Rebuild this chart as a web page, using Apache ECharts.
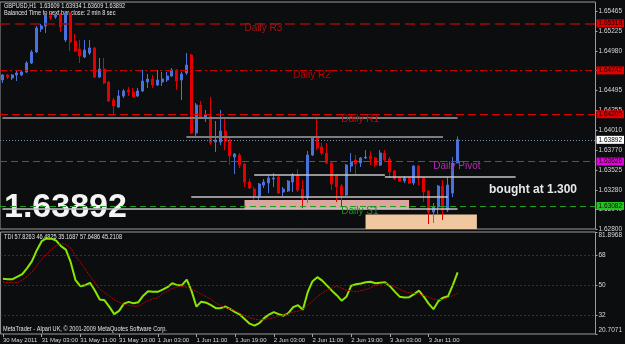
<!DOCTYPE html>
<html>
<head>
<meta charset="utf-8">
<title>GBPUSD,H1</title>
<script src="https://cdn.jsdelivr.net/npm/echarts@6/dist/echarts.min.js"></script>
<style>
html, body { margin: 0; padding: 0; background: #0c0d0f; }
#main { width: 625px; height: 344px; }
</style>
</head>
<body>
<div id="main"></div>
<script>
// H1 bars from 30 May 19:00 to 3 Jun 17:00
var opens = [1.64625,1.64686,1.64649,1.64686,1.64686,1.64723,1.64833,1.64968,1.65249,1.65286,
  1.65409,1.65396,1.65421,1.65115,1.65445,1.65102,1.65004,1.64906,1.64955,1.65017,
  1.64661,1.64759,1.64600,1.64380,1.64294,1.64429,1.64502,1.64478,1.64429,1.64490,
  1.64600,1.64637,1.64563,1.64600,1.64625,1.64674,1.64747,1.64625,1.64710,1.64931,
  1.63975,1.64318,1.64171,1.64184,1.63865,1.63865,1.64000,1.63890,1.63681,1.63706,
  1.63596,1.63375,1.63289,1.63204,1.63338,1.63363,1.63412,1.63436,1.63253,1.63265,
  1.63375,1.63461,1.63289,1.63179,1.63706,1.63926,1.63804,1.63730,1.63608,1.63449,
  1.63326,1.63216,1.63571,1.63645,1.63608,1.63669,1.63694,1.63669,1.63583,1.63730,
  1.63657,1.63510,1.63424,1.63387,1.63424,1.63363,1.63571,1.63424,1.63265,1.63008,
  1.63069,1.63326,1.63032,1.63240,1.63609];
var closes = [1.64686,1.64661,1.64686,1.64710,1.64723,1.64833,1.64968,1.65262,1.65286,1.65421,
  1.65384,1.65421,1.65274,1.65445,1.65090,1.64980,1.64919,1.64992,1.65017,1.64661,
  1.64759,1.64588,1.64367,1.64306,1.64429,1.64490,1.64478,1.64416,1.64490,1.64612,
  1.64637,1.64563,1.64625,1.64637,1.64674,1.64747,1.64612,1.64698,1.64808,1.63975,
  1.64318,1.64171,1.64196,1.63853,1.63890,1.64000,1.63877,1.63694,1.63718,1.63583,
  1.63375,1.63302,1.63204,1.63351,1.63375,1.63424,1.63424,1.63240,1.63289,1.63387,
  1.63461,1.63277,1.63167,1.63706,1.63926,1.63792,1.63730,1.63608,1.63351,1.63314,
  1.63216,1.63583,1.63620,1.63596,1.63669,1.63681,1.63657,1.63583,1.63730,1.63645,
  1.63498,1.63412,1.63387,1.63424,1.63363,1.63571,1.63424,1.63253,1.63008,1.63069,
  1.63326,1.63032,1.63338,1.63608,1.63892];
var lows = [1.64588,1.64637,1.64625,1.64612,1.64674,1.64710,1.64821,1.64955,1.65213,1.65200,
  1.65360,1.65372,1.65213,1.65090,1.64980,1.64968,1.64833,1.64894,1.64931,1.64649,
  1.64649,1.64576,1.64355,1.64208,1.64282,1.64404,1.64429,1.64416,1.64416,1.64478,
  1.64527,1.64527,1.64551,1.64551,1.64600,1.64661,1.64502,1.64380,1.64686,1.63963,
  1.63926,1.64159,1.64110,1.63828,1.63743,1.63828,1.63767,1.63583,1.63473,1.63547,
  1.63314,1.63289,1.63155,1.63155,1.63302,1.63240,1.63314,1.63228,1.63204,1.63253,
  1.63253,1.63253,1.63044,1.63118,1.63694,1.63767,1.63706,1.63596,1.63277,1.63130,
  1.63069,1.63204,1.63498,1.63461,1.63559,1.63657,1.63583,1.63559,1.63571,1.63620,
  1.63424,1.63400,1.63375,1.63363,1.63351,1.63338,1.63338,1.63130,1.62861,1.62873,
  1.62971,1.62910,1.63008,1.63191,1.63609];
var highs = [1.64698,1.64698,1.64698,1.64735,1.64735,1.64857,1.64992,1.65286,1.65311,1.65445,
  1.65445,1.65445,1.65445,1.65470,1.65458,1.65188,1.65115,1.65115,1.65115,1.65029,
  1.64894,1.64894,1.64612,1.64404,1.64502,1.64514,1.64539,1.64527,1.64527,1.64747,
  1.64698,1.64686,1.64747,1.64723,1.64723,1.64772,1.64759,1.64723,1.64955,1.64943,
  1.64343,1.64367,1.64257,1.64416,1.64122,1.64257,1.64171,1.63926,1.63730,1.63730,
  1.63608,1.63412,1.63314,1.63363,1.63412,1.63461,1.63485,1.63449,1.63314,1.63400,
  1.63485,1.63534,1.63400,1.63755,1.63939,1.64159,1.63853,1.63853,1.63620,1.63461,
  1.63351,1.63596,1.63730,1.63706,1.63681,1.63767,1.63755,1.63681,1.63767,1.63767,
  1.63681,1.63522,1.63436,1.63449,1.63436,1.63583,1.63583,1.63436,1.63277,1.63118,
  1.63338,1.63400,1.63436,1.63681,1.63934];

// TDI: RSI price line (green) and trade signal line (red)
var rsiLine = [53.9,53.6,53.6,55.1,56.6,60.2,64.4,71.0,76.4,78.0,
  77.9,76.7,73.4,71.3,63.8,53.0,49.4,50.0,51.4,46.8,
  41.4,40.9,37.0,32.6,34.6,38.9,40.0,39.1,39.8,43.7,
  46.4,46.0,46.0,47.3,48.8,51.2,50.0,50.0,53.3,46.4,
  37.1,40.1,39.5,38.0,36.2,36.2,37.2,35.6,33.8,32.3,
  29.6,26.9,25.7,27.2,30.2,32.3,33.8,32.6,31.7,33.2,
  36.8,38.0,35.3,45.8,52.4,54.8,52.7,49.7,46.7,44.0,
  40.7,43.0,49.7,50.6,51.0,51.8,52.0,51.2,51.5,51.8,
  49.4,46.1,43.1,42.6,42.8,44.6,46.7,43.1,38.9,35.6,
  40.4,42.5,43.3,50.0,57.6486];
var signalLine = [51.9,51.6,51.6,51.5,53.0,55.4,57.8,61.7,65.6,68.4,
  71.6,73.7,75.2,74.3,72.5,67.4,63.8,59.6,55.4,51.2,
  47.6,45.5,43.4,41.3,39.8,38.6,38.0,37.4,37.4,39.2,
  40.7,41.9,42.3,44.9,46.4,48.0,48.8,49.4,48.7,47.7,
  46.1,44.6,43.1,41.6,39.5,37.7,36.5,35.6,34.6,33.2,
  31.7,30.5,29.7,29.1,29.3,29.9,30.5,31.4,32.0,32.9,
  33.9,34.4,35.6,38.0,40.4,43.1,45.2,47.0,48.3,49.4,
  48.2,47.0,46.5,46.0,46.7,47.4,48.5,49.7,50.6,51.3,
  50.3,49.1,47.6,46.1,45.5,45.1,44.6,44.0,42.8,41.6,
  41.4,41.4,42.5,43.7,45.2108];
var tdiBands = [57.8263, 46.4825, 35.1687];
var tdiLevels = [68, 50, 32];

// axes
var timeLabels = ['30 May 2011','31 May 03:00','31 May 11:00','31 May 19:00','1 Jun 03:00','1 Jun 11:00',
  '1 Jun 19:00','2 Jun 03:00','2 Jun 11:00','2 Jun 19:00','3 Jun 03:00','3 Jun 11:00'];
var priceTicks = [1.65465,1.65225,1.64980,1.64740,1.64495,1.64255,1.64010,1.63770,1.63525,1.63280,1.63040,1.62800];
var priceTop = 1.6558;
var tdiTicks = [81.8968, 68, 50, 32, 20.7071];

// daily pivots
var pivotNames = ['Daily R3','Daily R2','Daily R1','Daily Pivot','Daily S1'];
var pivotValues = [1.65318, 1.64742, 1.64205, 1.63626, 1.63082];
var pivotTextAt = [50, 60, 70, 89, 70];

// hand drawn levels: price, first bar, last bar
var userLevels = [1.64165, 1.63930, 1.63461, 1.63445, 1.63200, 1.63044];
var userFrom = [0, 38, 52, 79, 39, 0];
var userTo = [94, 91, 79, 106, 92, 94];

// boxes: [from bar, top price, to bar, bottom price]
var zones = [[50, 1.63155, 84, 1.63041], [75, 1.62979, 98, 1.62700]];

var FONT = '"Liberation Sans", Arial, sans-serif';
var BULL = '#4a72dc', BEAR = '#e40000';

var categories = [];
var t0 = Date.UTC(2011, 4, 30, 19);
for (var i = 0; i < 123; i++) {
  categories.push(new Date(t0 + i * 3600000).toISOString().slice(0, 13));
}
var last = closes.length - 1;

var pivotLine = [
  { color: '#a00808', type: [10, 5], width: 1.5 },
  { color: '#d00000', type: [7, 3, 2, 3], width: 1 },
  { color: '#e00000', type: [8, 4], width: 1 },
  { color: '#d000d0', type: [7, 4], width: 1 },
  { color: '#1ea01e', type: [6, 4], width: 1 }
];
var pivotBox = ['#d80000', '#e00000', '#e00000', '#e000e0', '#22c422'];
var pivotText = ['#a81414', '#c00000', '#b01010', '#b828b8', '#1e8c1e'];

var lines = [];
pivotValues.forEach(function (v, k) {
  lines.push({
    yAxis: v, lineStyle: pivotLine[k],
    label: { show: true, position: 'end', distance: 1, formatter: v.toFixed(5),
      backgroundColor: pivotBox[k], color: '#200000', padding: [1, 2, 0, 2], fontSize: 6.5 }
  });
});
lines.push({
  yAxis: closes[last], lineStyle: { color: '#7b8db0', type: [1, 2], width: 1 },
  label: { show: true, position: 'end', distance: 1, formatter: closes[last].toFixed(5),
    backgroundColor: '#ffffff', color: '#000', padding: [1, 2, 0, 2], fontSize: 6.5 }
});
userLevels.forEach(function (v, k) {
  var upper = k < 2;
  lines.push([
    { coord: [userFrom[k], v], label: { show: false },
      lineStyle: { color: upper ? '#7c7c7c' : '#c4c4c4', width: upper ? 2 : 1.5, type: 'solid' } },
    { coord: [userTo[k], v] }
  ]);
});

var areas = zones.map(function (z, k) {
  return [
    { coord: [z[0], z[1]], itemStyle: { color: k === 0 ? '#dba69f' : '#f0c8a0' } },
    { coord: [z[2], z[3]] }
  ];
});

var texts = pivotNames.map(function (n, k) {
  return { name: n, coord: [pivotTextAt[k], pivotValues[k]],
    label: { color: pivotText[k] } };
});

function everyEighth(i) { return i % 8 === 0 && i / 8 < timeLabels.length; }

var chart = echarts.init(document.getElementById('main'));
chart.setOption({
  backgroundColor: '#0c0d0f',
  animation: false,
  textStyle: { fontFamily: FONT },
  grid: [
    { left: 0, top: 2, width: 602, height: 227, show: true, borderColor: '#9a9a9a', borderWidth: 1 },
    { left: 0, top: 232, width: 602, height: 102, show: true, borderColor: '#9a9a9a', borderWidth: 1 }
  ],
  xAxis: [
    { type: 'category', gridIndex: 0, data: categories, boundaryGap: true,
      axisLine: { show: false }, axisTick: { show: false }, axisLabel: { show: false }, splitLine: { show: false } },
    { type: 'category', gridIndex: 1, data: categories, boundaryGap: true,
      axisLine: { show: false }, splitLine: { show: false },
      axisTick: { show: true, alignWithLabel: true, length: 3, interval: everyEighth,
        lineStyle: { color: '#a8a8a8' } },
      axisLabel: { color: '#d8d8d8', fontSize: 6, fontFamily: FONT, align: 'left', margin: 3,
        showMinLabel: true, hideOverlap: false, interval: everyEighth,
        formatter: function (v) { return timeLabels[categories.indexOf(v) / 8]; } } }
  ],
  yAxis: [
    { type: 'value', gridIndex: 0, position: 'right', min: priceTicks[priceTicks.length - 1], max: priceTop,
      splitLine: { show: false }, axisLine: { show: false },
      axisTick: { show: true, length: 2, customValues: priceTicks, lineStyle: { color: '#a8a8a8' } },
      axisLabel: { customValues: priceTicks, color: '#d8d8d8', fontSize: 6.5, fontFamily: FONT, margin: 3,
        formatter: function (v) { return v.toFixed(5); } } },
    { type: 'value', gridIndex: 1, position: 'right', min: tdiTicks[tdiTicks.length - 1], max: tdiTicks[0],
      splitLine: { show: false }, axisLine: { show: false },
      axisTick: { show: true, length: 2, customValues: tdiTicks, lineStyle: { color: '#a8a8a8' } },
      axisLabel: { customValues: tdiTicks, color: '#d8d8d8', fontSize: 6.5, fontFamily: FONT, margin: 3,
        formatter: function (v) {
          if (v === tdiTicks[0]) return '{top|' + v.toFixed(4) + '}';
          if (v === tdiTicks[tdiTicks.length - 1]) return '{bot|' + v.toFixed(4) + '}';
          return String(v);
        },
        rich: { top: { padding: [7, 0, 0, 0], fontSize: 6.5, color: '#d8d8d8' },
                bot: { padding: [0, 0, 8, 0], fontSize: 6.5, color: '#d8d8d8' } } } }
  ],
  series: [
    {
      type: 'candlestick', xAxisIndex: 0, yAxisIndex: 0, barWidth: 2.5,
      data: opens.map(function (o, i) { return [o, closes[i], lows[i], highs[i]]; }),
      itemStyle: { color: BULL, color0: BEAR, borderColor: BULL, borderColor0: BEAR, borderWidth: 1 },
      markArea: { silent: true, data: areas },
      markLine: { silent: true, precision: 5, symbol: ['none', 'none'], animation: false, data: lines },
      markPoint: { silent: true, symbol: 'circle', symbolSize: 0, data: texts,
        label: { show: true, position: 'right', distance: 0, offset: [0, 5], formatter: '{b}',
          fontSize: 10, fontFamily: FONT } }
    },
    {
      type: 'line', xAxisIndex: 1, yAxisIndex: 1, data: rsiLine, showSymbol: false,
      lineStyle: { color: '#8ce600', width: 2 },
      markLine: { silent: true, symbol: ['none', 'none'], label: { show: false },
        lineStyle: { color: '#5a5a5a', type: [1, 3], width: 1 },
        data: tdiLevels.map(function (v) { return { yAxis: v }; }) }
    },
    {
      type: 'line', xAxisIndex: 1, yAxisIndex: 1, data: signalLine, showSymbol: false,
      lineStyle: { color: '#c00000', width: 1, type: [2, 1] }
    }
  ],
  graphic: [
    { type: 'text', x: 4, y: 6, scaleX: 0.8, silent: true,
      style: { text: 'GBPUSD,H1  ' + [opens[last], highs[last], lows[last], closes[last]].map(function (v) { return v.toFixed(5); }).join(' '),
        fill: '#e4e4e4', font: '7px ' + FONT, verticalAlign: 'middle' } },
    { type: 'text', x: 4, y: 13, scaleX: 0.8, silent: true,
      style: { text: 'Balanced Time to next bar close: 2 min 8 sec', fill: '#e4e4e4', font: '7px ' + FONT, verticalAlign: 'middle' } },
    { type: 'text', x: 4, y: 237, scaleX: 0.8, silent: true,
      style: { text: 'TDI ' + tdiBands.concat([rsiLine[last], signalLine[last]]).map(function (v) { return v.toFixed(4); }).join(' '),
        fill: '#e4e4e4', font: '7px ' + FONT, verticalAlign: 'middle' } },
    { type: 'text', x: 3, y: 329, scaleX: 0.8, silent: true,
      style: { text: 'MetaTrader - Alpari UK, \u00a9 2001-2009 MetaQuotes Software Corp.', fill: '#e4e4e4', font: '7px ' + FONT, verticalAlign: 'middle' } },
    { type: 'text', x: 4, y: 208, silent: true,
      style: { text: closes[last].toFixed(5), fill: '#f4f4f4', font: 'bold 34px ' + FONT, verticalAlign: 'middle' } },
    { type: 'text', x: 489, y: 190, silent: true,
      style: { text: 'bought at 1.300', fill: '#e8e8e8', font: 'bold 12px ' + FONT, verticalAlign: 'middle' } }
  ]
});
</script>
</body>
</html>
